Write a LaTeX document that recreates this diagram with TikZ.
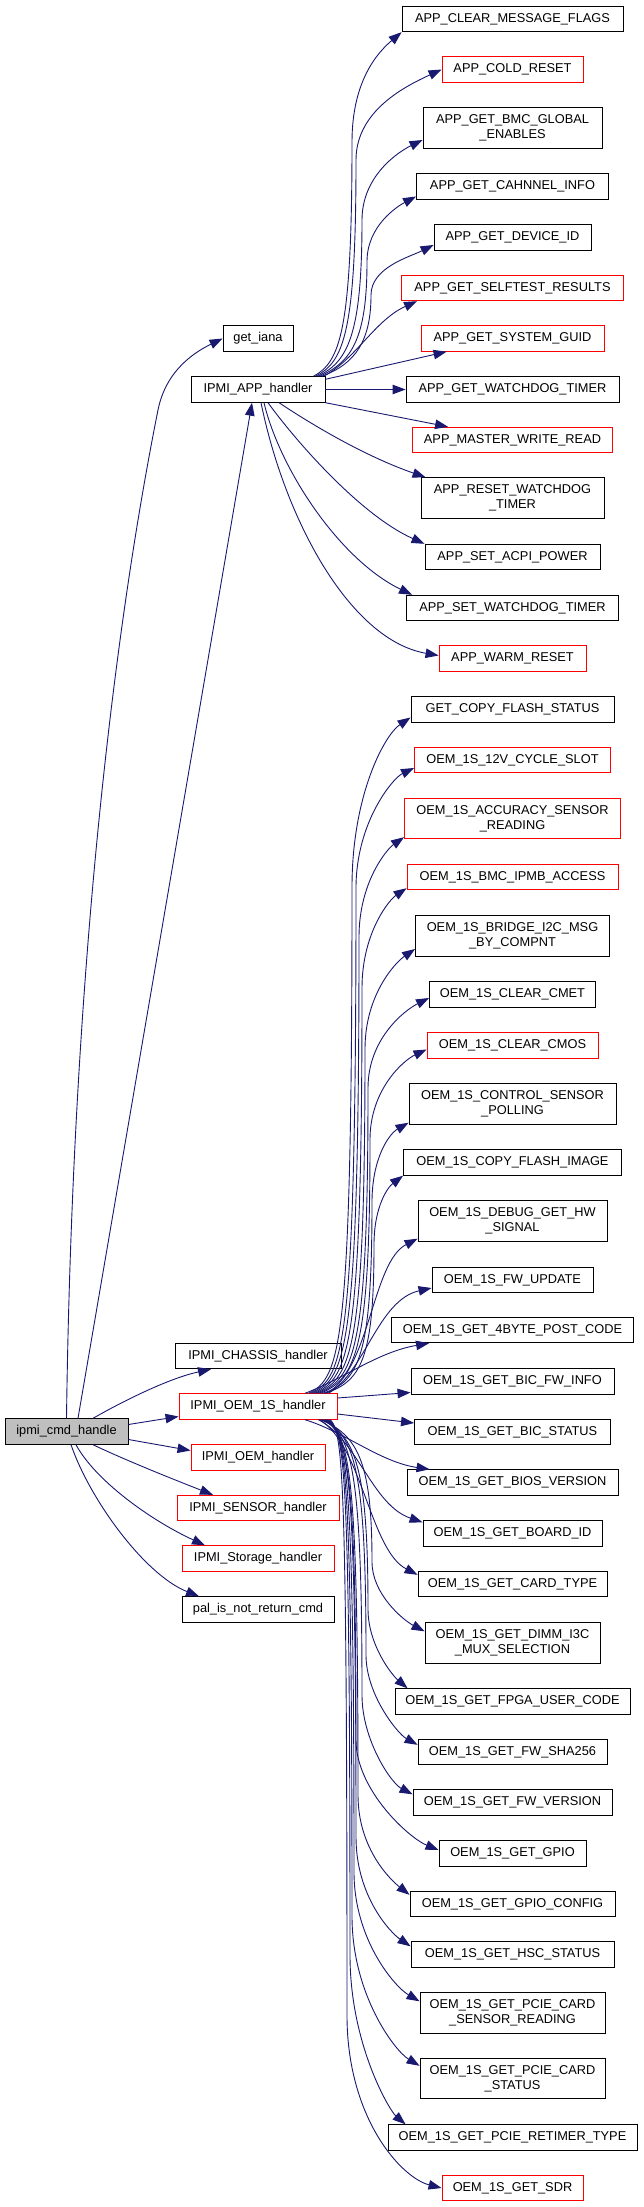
\documentclass[tikz,border=0pt]{standalone}
\usepackage{fontspec}
\setmainfont{Liberation Sans}
\usetikzlibrary{arrows.meta}
\definecolor{edgec}{HTML}{191970}
\definecolor{rootfill}{HTML}{BFBFBF}
\definecolor{nred}{HTML}{FF0000}
\begin{document}
\begin{tikzpicture}[x=1pt,y=-1pt,
  fn/.style={draw=black, fill=white, line width=0.9pt, inner sep=0pt, rectangle, font=\fontsize{12.8}{15}\selectfont},
  one/.style={fn, minimum height=25.5pt, text height=9.3pt, text depth=2.7pt},
  two/.style={fn, align=center, minimum height=40.5pt},
  redb/.style={draw=nred},
  rootn/.style={fill=rootfill},
  e/.style={draw=edgec, line width=0.9pt, -{Triangle[length=13pt,width=9.5pt]}}
]
\fill[white] (0,0) rectangle (644,2207);
\useasboundingbox (0,0) rectangle (644,2207);

% left and middle column
\node[one, rootn, minimum width=123pt] (root) at (66.5,1431.5) {ipmi\_cmd\_handle};
\node[one, minimum width=70pt] (gi) at (258,338.5) {get\_iana};
\node[one, minimum width=134pt] (app) at (258,389.5) {IPMI\_APP\_handler};
\node[one, minimum width=166pt] (chassis) at (258,1356) {IPMI\_CHASSIS\_handler};
\node[one, redb, minimum width=158pt] (oem1s) at (258,1406.5) {IPMI\_OEM\_1S\_handler};
\node[one, redb, minimum width=134pt] (oem) at (258,1457.5) {IPMI\_OEM\_handler};
\node[one, redb, minimum width=162pt] (sensor) at (258,1508) {IPMI\_SENSOR\_handler};
\node[one, redb, minimum width=152pt] (storage) at (258,1558.5) {IPMI\_Storage\_handler};
\node[one, minimum width=152pt] (pal) at (258,1609.5) {pal\_is\_not\_return\_cmd};

% right column
\node[one, minimum width=221pt] (aclear) at (512.5,19) {APP\_CLEAR\_MESSAGE\_FLAGS};
\node[one, redb, minimum width=141pt] (acold) at (512.5,69.5) {APP\_COLD\_RESET};
\node[two, minimum width=179pt] (abmc) at (512.5,128) {APP\_GET\_BMC\_GLOBAL\\\_ENABLES};
\node[one, minimum width=192pt] (achan) at (512.5,186.5) {APP\_GET\_CAHNNEL\_INFO};
\node[one, minimum width=157pt] (adev) at (512.5,237.5) {APP\_GET\_DEVICE\_ID};
\node[one, redb, minimum width=222pt] (aself) at (512.5,288) {APP\_GET\_SELFTEST\_RESULTS};
\node[one, redb, minimum width=183pt] (aguid) at (512.5,338.5) {APP\_GET\_SYSTEM\_GUID};
\node[one, minimum width=213pt] (agwd) at (512.5,389.5) {APP\_GET\_WATCHDOG\_TIMER};
\node[one, redb, minimum width=200pt] (amwr) at (512.5,440) {APP\_MASTER\_WRITE\_READ};
\node[two, minimum width=183pt] (arwd) at (512.5,498) {APP\_RESET\_WATCHDOG\\\_TIMER};
\node[one, minimum width=175pt] (aacpi) at (512.5,557) {APP\_SET\_ACPI\_POWER};
\node[one, minimum width=212pt] (aswd) at (512.5,608) {APP\_SET\_WATCHDOG\_TIMER};
\node[one, redb, minimum width=147pt] (awarm) at (512.5,658.5) {APP\_WARM\_RESET};
\node[one, minimum width=203pt] (gcfs) at (512.5,709.5) {GET\_COPY\_FLASH\_STATUS};
\node[one, redb, minimum width=196pt] (o12v) at (512.5,760) {OEM\_1S\_12V\_CYCLE\_SLOT};
\node[two, redb, minimum width=216pt] (oacc) at (512.5,818.5) {OEM\_1S\_ACCURACY\_SENSOR\\\_READING};
\node[one, redb, minimum width=211pt] (obmc) at (512.5,877) {OEM\_1S\_BMC\_IPMB\_ACCESS};
\node[two, minimum width=194pt] (obridge) at (512.5,936) {OEM\_1S\_BRIDGE\_I2C\_MSG\\\_BY\_COMPNT};
\node[one, minimum width=166pt] (ocmet) at (512.5,994.5) {OEM\_1S\_CLEAR\_CMET};
\node[one, redb, minimum width=171pt] (ocmos) at (512.5,1045.5) {OEM\_1S\_CLEAR\_CMOS};
\node[two, minimum width=207pt] (octrl) at (512.5,1104) {OEM\_1S\_CONTROL\_SENSOR\\\_POLLING};
\node[one, minimum width=218pt] (ocopy) at (512.5,1162.5) {OEM\_1S\_COPY\_FLASH\_IMAGE};
\node[two, minimum width=189pt] (odebug) at (512.5,1221) {OEM\_1S\_DEBUG\_GET\_HW\\\_SIGNAL};
\node[one, minimum width=161pt] (ofwup) at (512.5,1280) {OEM\_1S\_FW\_UPDATE};
\node[one, minimum width=242pt] (o4byte) at (512.5,1330) {OEM\_1S\_GET\_4BYTE\_POST\_CODE};
\node[one, minimum width=203pt] (obicfw) at (512.5,1381.5) {OEM\_1S\_GET\_BIC\_FW\_INFO};
\node[one, minimum width=196pt] (obicst) at (512.5,1432) {OEM\_1S\_GET\_BIC\_STATUS};
\node[one, minimum width=211pt] (obios) at (512.5,1482.5) {OEM\_1S\_GET\_BIOS\_VERSION};
\node[one, minimum width=179pt] (oboard) at (512.5,1533.5) {OEM\_1S\_GET\_BOARD\_ID};
\node[one, minimum width=189pt] (ocard) at (512.5,1584) {OEM\_1S\_GET\_CARD\_TYPE};
\node[two, minimum width=175pt] (odimm) at (512.5,1643) {OEM\_1S\_GET\_DIMM\_I3C\\\_MUX\_SELECTION};
\node[one, minimum width=235pt] (ofpga) at (512.5,1701.5) {OEM\_1S\_GET\_FPGA\_USER\_CODE};
\node[one, minimum width=189pt] (osha) at (512.5,1752) {OEM\_1S\_GET\_FW\_SHA256};
\node[one, minimum width=199pt] (ofwver) at (512.5,1802.5) {OEM\_1S\_GET\_FW\_VERSION};
\node[one, minimum width=147pt] (ogpio) at (512.5,1853.5) {OEM\_1S\_GET\_GPIO};
\node[one, minimum width=205pt] (ogpiocfg) at (512.5,1904) {OEM\_1S\_GET\_GPIO\_CONFIG};
\node[one, minimum width=203pt] (ohsc) at (512.5,1954.5) {OEM\_1S\_GET\_HSC\_STATUS};
\node[two, minimum width=185pt] (opcies) at (512.5,2013) {OEM\_1S\_GET\_PCIE\_CARD\\\_SENSOR\_READING};
\node[two, minimum width=185pt] (opciest) at (512.5,2078.5) {OEM\_1S\_GET\_PCIE\_CARD\\\_STATUS};
\node[one, minimum width=249pt] (oretimer) at (512.5,2137.5) {OEM\_1S\_GET\_PCIE\_RETIMER\_TYPE};
\node[one, redb, minimum width=141pt] (osdr) at (512.5,2188) {OEM\_1S\_GET\_SDR};

% edges from ipmi_cmd_handle
\draw[e] (root.north) .. controls (72,1000) and (110,650) .. (158,410) .. controls (166,370) and (195,352) .. (gi.west);
\draw[e] ([xshift=11.5pt]root.north) -- ([xshift=-6pt]app.south);
\draw[e] ([xshift=26.5pt]root.north) .. controls (125,1400) and (170,1378) .. ([xshift=-47pt]chassis.south);
\draw[e] ([yshift=7pt]root.east) -- ([yshift=-10pt]oem1s.west);
\draw[e] ([yshift=-8pt]root.east) -- ([yshift=7pt]oem.west);
\draw[e] ([xshift=26.5pt]root.south) .. controls (125,1460) and (175,1480) .. ([xshift=-45pt]sensor.north);
\draw[e] ([xshift=9.5pt]root.south) .. controls (95,1480) and (150,1520) .. ([xshift=-53pt]storage.north);
\draw[e] ([xshift=4.5pt]root.south) .. controls (90,1500) and (145,1575) .. ([xshift=-59pt]pal.north);

% edges from IPMI_APP_handler
\draw[e] ([xshift=-12pt]app.north east) .. controls (340,362) and (352,332) .. (352,142) .. controls (352,81.5) and (377,53) .. (aclear.south west);
\draw[e] ([xshift=-10pt]app.north east) .. controls (344,362) and (356,332) .. (356,160) .. controls (356,110) and (407,85.5) .. (acold.west);
\draw[e] ([xshift=-8pt]app.north east) .. controls (348,362) and (362,335) .. (362,220) .. controls (362,176) and (398,152) .. ([yshift=-12pt]abmc.west);
\draw[e] ([xshift=-6pt]app.north east) .. controls (352,362) and (367,338) .. (367,261.5) .. controls (367,226) and (397,206.5) .. ([yshift=-10pt]achan.west);
\draw[e] ([xshift=-4pt]app.north east) .. controls (356,364) and (371,340) .. (371,295) .. controls (371,267.5) and (409.5,257) .. ([yshift=-7.5pt]adev.west);
\draw[e] ([xshift=-2pt]app.north east) .. controls (355,360) and (375,320) .. ([xshift=16pt]aself.south west);
\draw[e] ([yshift=-3pt]app.north east) -- ([xshift=26pt]aguid.south west);
\draw[e] (app.east) -- (agwd.west);
\draw[e] (app.south east) -- ([xshift=36pt]amwr.north west);
\draw[e] ([xshift=21pt]app.south) .. controls (320,430) and (370,458) .. ([xshift=5pt]arwd.north west);
\draw[e] ([xshift=10pt]app.south) .. controls (295,440) and (360,515) .. (aacpi.north west);
\draw[e] ([xshift=6pt]app.south) .. controls (280,470) and (340,560) .. ([xshift=6pt]aswd.north west);
\draw[e] ([xshift=3pt]app.south) .. controls (285,520) and (350,640) .. ([yshift=3pt]awarm.west);

% edges from IPMI_OEM_1S_handler, upwards
\draw[e] ([xshift=-29pt]oem1s.north east) .. controls (341,1378) and (352,1345) .. (352,887) .. controls (352,794) and (385,734.5) .. ([yshift=-8pt]gcfs.west);
\draw[e] ([xshift=-27pt]oem1s.north east) .. controls (344.5,1378) and (356,1345) .. (356,888) .. controls (356,822) and (393,778) .. ([yshift=-8pt]o12v.west);
\draw[e] ([xshift=-25pt]oem1s.north east) .. controls (347,1378) and (359,1345) .. (359,937) .. controls (359,882) and (387,849) .. ([yshift=2pt]oacc.south west);
\draw[e] ([xshift=-23pt]oem1s.north east) .. controls (350,1378) and (362,1345) .. (362,988) .. controls (362,933) and (389,900) .. ([yshift=2pt]obmc.south west);
\draw[e] ([xshift=-21pt]oem1s.north east) .. controls (352.75,1378) and (365,1345) .. (365,1049) .. controls (365,994) and (396,962) .. ([yshift=-13pt]obridge.west);
\draw[e] ([xshift=-19pt]oem1s.north east) .. controls (355.5,1378) and (368,1345) .. (368,1088) .. controls (368,1038.5) and (405,1010) .. ([yshift=-3.5pt]ocmet.west);
\draw[e] ([xshift=-17pt]oem1s.north east) .. controls (357.5,1378) and (370,1345) .. (370,1139.5) .. controls (370,1090) and (403,1060.5) .. ([yshift=-4pt]ocmos.west);
\draw[e] ([xshift=-15pt]oem1s.north east) .. controls (359.5,1382) and (372,1355) .. (372,1202) .. controls (372,1158) and (389,1134) .. ([yshift=2pt]octrl.south west);
\draw[e] ([xshift=-13pt]oem1s.north east) .. controls (361.5,1382) and (374,1358) .. (374,1245) .. controls (374,1206) and (388,1187) .. (ocopy.south west);
\draw[e] ([xshift=-11pt]oem1s.north east) .. controls (370,1370) and (372,1262) .. ([yshift=3pt]odebug.south west);
\draw[e] ([xshift=-9pt]oem1s.north east) .. controls (365,1372) and (378,1300) .. ([yshift=-8pt]ofwup.west);
\draw[e] ([xshift=47pt]oem1s.north) .. controls (345,1378) and (378,1352) .. ([xshift=38pt]o4byte.south west);

% edges from IPMI_OEM_1S_handler, sideways and downwards
\draw[e] ([yshift=8.5pt]oem1s.east) -- ([yshift=-11pt]obicfw.west);
\draw[e] ([yshift=-7.5pt]oem1s.east) -- ([yshift=9pt]obicst.west);
\draw[e] ([xshift=47pt]oem1s.south) .. controls (345,1432) and (380,1462) .. ([xshift=23pt]obios.north west);
\draw[e] ([xshift=-19pt]oem1s.south east) .. controls (358,1440) and (372,1505) .. ([yshift=-2pt]oboard.north west);
\draw[e] ([xshift=-18pt]oem1s.south east) .. controls (362,1445) and (370,1550) .. ([yshift=-4pt]ocard.north west);
\draw[e] ([xshift=-17pt]oem1s.south east) .. controls (359,1435) and (372,1465) .. (372,1562) .. controls (372,1594) and (403,1620) .. ([yshift=-9pt]odimm.north west);
\draw[e] ([xshift=-16pt]oem1s.south east) .. controls (356,1435) and (368,1470) .. (368,1609) .. controls (368,1645) and (392,1675) .. ([xshift=13pt]ofpga.north west);
\draw[e] ([xshift=-15pt]oem1s.south east) .. controls (355,1435) and (366,1470) .. (366,1655) .. controls (366,1695) and (398,1734) .. ([yshift=-6pt]osha.north west);
\draw[e] ([xshift=-14pt]oem1s.south east) .. controls (352,1435) and (362,1470) .. (362,1695) .. controls (362,1740) and (391,1783) .. ([yshift=-5pt]ofwver.north west);
\draw[e] ([xshift=-13pt]oem1s.south east) .. controls (348,1435) and (356,1470) .. (356,1740) .. controls (356,1790) and (409,1838) .. ([yshift=3.5pt]ogpio.west);
\draw[e] ([xshift=-12pt]oem1s.south east) .. controls (350,1435) and (358,1470) .. (358,1795) .. controls (358,1850) and (392,1881) .. ([yshift=-4pt]ogpiocfg.north west);
\draw[e] ([xshift=-11pt]oem1s.south east) .. controls (348.5,1435) and (356,1470) .. (356,1837) .. controls (356,1897) and (391,1933) .. ([yshift=-5pt]ohsc.north west);
\draw[e] ([xshift=-10pt]oem1s.south east) .. controls (347,1435) and (354,1470) .. (354,1872) .. controls (354,1940) and (395,1987) .. ([yshift=-9pt]opcies.north west);
\draw[e] ([xshift=-9pt]oem1s.south east) .. controls (346,1435) and (352,1470) .. (352,1916) .. controls (352,1995) and (395,2051) .. ([yshift=-8pt]opciest.north west);
\draw[e] ([xshift=-8pt]oem1s.south east) .. controls (345,1435) and (350,1470) .. (350,1955) .. controls (350,2045) and (390,2111) .. ([xshift=18pt]oretimer.north west);
\draw[e] ([xshift=-7pt]oem1s.south east) .. controls (343,1435) and (347,1470) .. (347,2018) .. controls (348,2120) and (402,2178) .. (osdr.west);
\end{tikzpicture}
\end{document}
